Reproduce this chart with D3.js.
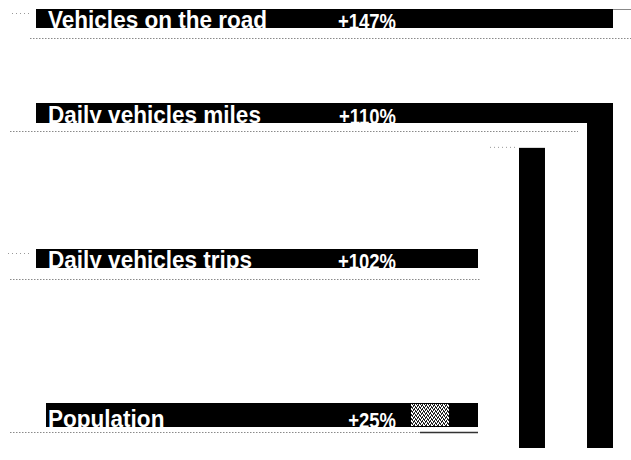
<!DOCTYPE html>
<html>
<head>
<meta charset="utf-8">
<script src="https://cdn.jsdelivr.net/npm/d3@7"></script>
<style>
  html, body { margin: 0; padding: 0; background: #fff; }
  svg { display: block; }
  .cat, .val { font-family: "Liberation Sans", Arial, sans-serif; font-weight: bold; fill: #fff; }
</style>
</head>
<body>
<svg id="chart" width="631" height="460"></svg>
<script>
// Growth of travel compared with population
const categories = ["Vehicles on the road", "Daily vehicles miles", "Daily vehicles trips", "Population"];
const changeValues = [147, 110, 102, 25];
const changeLabels = changeValues.map(v => "+" + v + "%");

// Two columns on the right, in percent of the taller one
const columnKeys = ["trips", "miles"];
const columnValues = [87, 100];

const W = 631, H = 460;
const svg = d3.select("#chart");

// Row placement of the labelled banners
const rowTop = d3.scaleOrdinal().domain(categories).range([9, 103, 249, 403]);
const rowHeight = d3.scaleOrdinal().domain(categories).range([19, 20, 19, 24]);
const rowLeft = d3.scaleOrdinal().domain(categories).range([36, 36, 36, 46]);
const ruleGap = d3.scaleOrdinal().domain(categories).range([10, 8, 11, 5]);
const rowBottom = d => rowTop(d) + rowHeight(d);
const ruleY = d => rowBottom(d) + ruleGap(d) + 0.5;

// Columns
const colX = d3.scaleBand().domain(columnKeys).range([519, 613]).paddingInner(0.618).paddingOuter(0);
const colY = d3.scaleLinear().domain([0, 100]).range([448, 103]);

const innerTop = colY(d3.min(columnValues));
const bannerRight = top => top < innerTop ? colX.range()[1] : colX(columnKeys[0]) - 41;

// Dotted rules under each banner
const ruleEnds = [631, 578, 481, 478];
svg.append("g").selectAll("line").data(categories).join("line")
  .attr("x1", (d, i) => i === 0 ? 30 : 10)
  .attr("x2", (d, i) => ruleEnds[i])
  .attr("y1", ruleY)
  .attr("y2", ruleY)
  .attr("stroke", "#8a8a8a")
  .attr("stroke-width", 1)
  .attr("stroke-dasharray", "1.5 1.5");

// Small leaders
const leaders = [[12, 30, rowTop(categories[0]) + 4.5], [8, 30, rowTop(categories[2]) + 4.5], [490, 515, innerTop - 0.5]];
svg.append("g").selectAll("line").data(leaders).join("line")
  .attr("x1", d => d[0]).attr("x2", d => d[1])
  .attr("y1", d => d[2]).attr("y2", d => d[2])
  .attr("stroke", "#999").attr("stroke-dasharray", "1 3");

// Thin frame line continuing the first banner
svg.append("line")
  .attr("x1", colX.range()[1]).attr("x2", W)
  .attr("y1", rowTop(categories[0]) + 0.5).attr("y2", rowTop(categories[0]) + 0.5)
  .attr("stroke", "#888");

// Columns
svg.append("g").selectAll("rect").data(columnKeys).join("rect")
  .attr("x", d => colX(d))
  .attr("width", colX.bandwidth())
  .attr("y", (d, i) => colY(columnValues[i]))
  .attr("height", (d, i) => colY(0) - colY(columnValues[i]))
  .attr("fill", "#000");

// Banners
const rows = svg.append("g").selectAll("g").data(categories).join("g");
rows.append("rect")
  .attr("x", d => rowLeft(d))
  .attr("y", d => rowTop(d))
  .attr("width", d => bannerRight(rowTop(d)) - rowLeft(d))
  .attr("height", d => rowHeight(d))
  .attr("fill", "#000");

// Halftone patch on the population banner
const defs = svg.append("defs");
const pat = defs.append("pattern").attr("id", "halftone")
  .attr("width", 4).attr("height", 4).attr("patternUnits", "userSpaceOnUse");
pat.append("rect").attr("width", 4).attr("height", 4).attr("fill", "#fff");
[[0,0],[2,1],[1,2],[3,3],[0,3],[2,0],[3,2],[1,1]].forEach(([x, y]) =>
  pat.append("rect").attr("x", x).attr("y", y).attr("width", 1).attr("height", 1).attr("fill", "#222"));
const pop = categories[3];
const popRight = bannerRight(rowTop(pop));
svg.append("rect")
  .attr("x", popRight - 67).attr("y", rowTop(pop) + 1)
  .attr("width", 38).attr("height", rowHeight(pop) - 2)
  .attr("fill", "url(#halftone)");
svg.append("line")
  .attr("x1", popRight - 58).attr("x2", popRight)
  .attr("y1", ruleY(pop)).attr("y2", ruleY(pop))
  .attr("stroke", "#333").attr("stroke-width", 1.5);

// Category names, slightly condensed
rows.append("text")
  .attr("class", "cat")
  .attr("transform", d => `translate(48,${rowBottom(d)}) scale(0.92,1)`)
  .attr("font-size", 24.5)
  .text(d => d);

// Change labels, condensed
rows.append("text")
  .attr("class", "val")
  .attr("transform", d => `translate(396,${rowBottom(d) + 1}) scale(0.84,1)`)
  .attr("font-size", 22)
  .attr("text-anchor", "end")
  .text((d, i) => changeLabels[i]);
</script>
</body>
</html>
